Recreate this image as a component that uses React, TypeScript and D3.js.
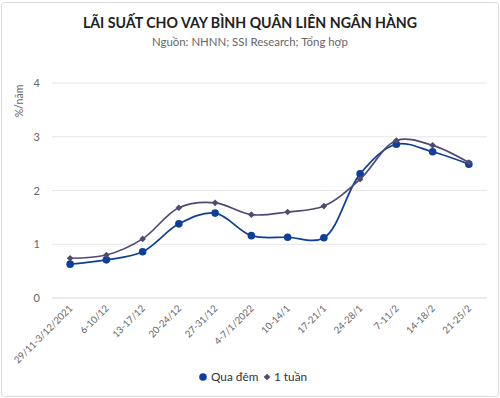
import React from "react"
import * as d3 from "d3"

const categories = ["29/11-3/12/2021", "6-10/12", "13-17/12", "20-24/12", "27-31/12", "4-7/1/2022", "10-14/1", "17-21/1", "24-28/1", "7-11/2", "14-18/2", "21-25/2"]
const overnight = [0.63, 0.71, 0.86, 1.38, 1.58, 1.16, 1.13, 1.12, 2.31, 2.86, 2.72, 2.49]
const oneWeek = [0.74, 0.80, 1.10, 1.68, 1.77, 1.55, 1.60, 1.71, 2.21, 2.93, 2.84, 2.52]
const yTicks = [0, 1, 2, 3, 4]

const seriesList = [
	{ name: "Qua đêm", values: overnight, color: "#0e3f99", marker: "circle" },
	{ name: "1 tuần", values: oneWeek, color: "#4f4a72", marker: "diamond" },
]

export default function App() {
	/** Chart dimensions */
	const width = 500
	const height = 398
	const plotLeft = 52
	const plotRight = 487
	const plotTop = 83
	const plotBottom = 298
	const font = "Lato, 'Open Sans', sans-serif"

	const xScale = d3.scaleBand().domain(categories).range([plotLeft, plotRight])
	const yScale = d3.scaleLinear().domain([0, 4]).range([plotBottom, plotTop])
	const cx = (c: string) => (xScale(c) as number) + xScale.bandwidth() / 2

	const lineGen = d3
		.line<number>()
		.x((_, i) => cx(categories[i]))
		.y(d => yScale(d))
		.curve(d3.curveCatmullRom.alpha(0.5))

	/** Square turned 45deg, like the chart's diamond marker */
	const diamond = d3.symbol().type(d3.symbolSquare).size(22)

	const renderMarker = (type: string, x: number, y: number, color: string, key?: any) =>
		type === "circle" ? (
			<circle key={key} cx={x} cy={y} r={3.8} fill={color} />
		) : (
			<path key={key} d={diamond() as string} transform={`translate(${x},${y}) rotate(45)`} fill={color} />
		)

	return (
		<svg width={width} height={height} style={{ position: "absolute", left: 0, top: 0 }} fontFamily={font}>
			<rect x={1.5} y={2.5} width={width - 3} height={height - 4} rx={3} fill="#fff" stroke="#dcdcdc" />
			<text x={width / 2} y={28} textAnchor="middle" fontSize={14.2} fontWeight={700} fill="#222">
				LÃI SUẤT CHO VAY BÌNH QUÂN LIÊN NGÂN HÀNG
			</text>
			<text x={width / 2} y={46} textAnchor="middle" fontSize={11.4} fill="#666">
				Nguồn: NHNN; SSI Research; Tổng hợp
			</text>

			{/* grid and y axis */}
			{yTicks.map(t => (
				<g key={t}>
					<line x1={plotLeft} x2={plotRight} y1={yScale(t)} y2={yScale(t)} stroke={t === 0 ? "#ccd6eb" : "#e6e6e6"} />
					<text x={40} y={yScale(t) + 4} textAnchor="end" fontSize={11} fill="#666">
						{t}
					</text>
				</g>
			))}
			<text transform={`translate(23,${101}) rotate(-90)`} textAnchor="middle" fontSize={10.5} fill="#666">
				%/năm
			</text>

			{/* x labels */}
			{categories.map(c => (
				<text key={c} transform={`translate(${cx(c) + 3},${plotBottom + 11}) rotate(-45)`} textAnchor="end" fontSize={9.6} fill="#666">
					{c}
				</text>
			))}

			{/* series */}
			{seriesList.map(s => (
				<g key={s.name}>
					<path d={lineGen(s.values) as string} fill="none" stroke={s.color} strokeWidth={1.7} />
					{s.values.map((v, i) => renderMarker(s.marker, cx(categories[i]), yScale(v), s.color, i))}
				</g>
			))}

			{/* legend */}
			<g fontSize={11.8} fill="#333">
				{renderMarker("circle", 203, 377, seriesList[0].color)}
				<text x={211} y={381}>Qua đêm</text>
				{renderMarker("diamond", 267, 377, seriesList[1].color)}
				<text x={274} y={381}>1 tuần</text>
			</g>
		</svg>
	)
}
